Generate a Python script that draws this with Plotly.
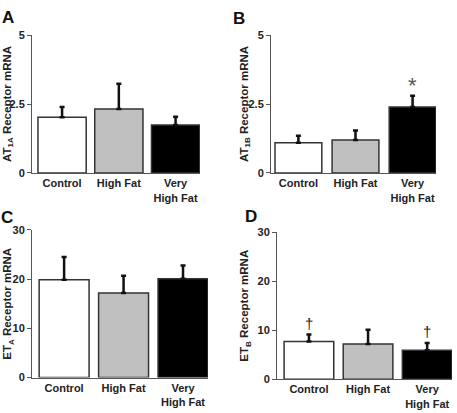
import plotly.graph_objects as go

categories = ["Control", "High Fat", "Very<br>High Fat"]
colors = ["#ffffff", "#c0c0c0", "#000000"]

a_mean = [2.02, 2.32, 1.74]
a_err = [0.37, 0.92, 0.30]
b_mean = [1.10, 1.20, 2.39]
b_err = [0.25, 0.34, 0.41]
c_mean = [19.9, 17.2, 20.1]
c_err = [4.6, 3.5, 2.7]
d_mean = [7.7, 7.2, 5.9]
d_err = [1.4, 2.9, 1.5]

b_marks = ["", "", "*"]
d_marks = ["†", "", "†"]

a_ticks = [0, 2.5, 5]
c_ticks = [0, 10, 20, 30]

FONT = "Liberation Sans, Arial, sans-serif"
W, H = 457, 413

panels = [
    # letter, title, mean, err, marks, ticks, ymax, xdom, ydom, xrange, barwidth
    ("A", "AT<sub>1A</sub> Receptor mRNA", a_mean, a_err, None, a_ticks, 5,
     (32 / W, 200 / W), (1 - 172 / H, 1 - 30 / H), (-0.53, 2.43), 0.85),
    ("B", "AT<sub>1B</sub> Receptor mRNA", b_mean, b_err, b_marks, a_ticks, 5,
     (271 / W, 436 / W), (1 - 172 / H, 1 - 30 / H), (-0.48, 2.41), 0.82),
    ("C", "ET<sub>A</sub> Receptor mRNA", c_mean, c_err, None, c_ticks, 30,
     (32 / W, 208 / W), (1 - 382.7 / H, 1 - 230.7 / H), (-0.54, 2.42), 0.84),
    ("D", "ET<sub>B</sub> Receptor mRNA", d_mean, d_err, d_marks, c_ticks, 30,
     (277 / W, 452 / W), (1 - 384.3 / H, 1 - 233 / H), (-0.54, 2.42), 0.84),
]

letter_pos = {"A": (8, 12), "B": (239, 13), "C": (7, 218), "D": (251, 217)}
title_x = {"A": 8, "B": 245, "C": 8, "D": 245}

fig = go.Figure()
layout = dict(
    width=W, height=H, margin=dict(l=0, r=0, t=0, b=0),
    paper_bgcolor="white", plot_bgcolor="white", showlegend=False,
    font=dict(family=FONT, color="#222"),
)
annotations = []

for i, (letter, title, mean, err, marks, ticks, ymax, xdom, ydom, xr, bw) in enumerate(panels):
    n = "" if i == 0 else str(i + 1)
    xa, ya = "x" + n, "y" + n
    fig.add_trace(go.Bar(
        x=list(range(len(categories))), y=mean, width=bw,
        marker=dict(color=colors, line=dict(color="#333", width=1.5)),
        error_y=dict(type="data", symmetric=False, array=err, arrayminus=[0] * len(err),
                     color="#111", thickness=2.5, width=2.5),
        xaxis=xa, yaxis=ya, hoverinfo="skip",
    ))
    layout["xaxis" + n] = dict(
        domain=list(xdom), range=list(xr), anchor=ya,
        tickvals=list(range(len(categories))), ticktext=["<b>%s</b>" % c for c in categories],
        showline=True, linecolor="#555", linewidth=1, ticks="", showgrid=False,
        zeroline=False, fixedrange=True,
        tickfont=dict(family=FONT, size=11, color="#222"),
    )
    layout["yaxis" + n] = dict(
        domain=list(ydom), range=[0, ymax], anchor=xa,
        tickvals=ticks, ticktext=["<b>%s</b>" % t for t in ticks],
        showline=True, linecolor="#555", linewidth=1, ticks="outside", ticklen=4,
        tickcolor="#555", showgrid=False, zeroline=False, fixedrange=True,
        tickfont=dict(family=FONT, size=11, color="#222"),
    )
    lx, ly = letter_pos[letter]
    annotations.append(dict(
        text="<b>%s</b>" % letter, x=lx / W, y=1 - ly / H, xref="paper", yref="paper",
        showarrow=False, xanchor="center", yanchor="middle",
        font=dict(family=FONT, size=17, color="#111"),
    ))
    annotations.append(dict(
        text="<b>%s</b>" % title, x=title_x[letter] / W, y=(ydom[0] + ydom[1]) / 2,
        xref="paper", yref="paper", showarrow=False, textangle=-90,
        xanchor="center", yanchor="middle",
        font=dict(family=FONT, size=11.5, color="#222"),
    ))
    if marks:
        for j, m in enumerate(marks):
            if not m:
                continue
            star = m == "*"
            annotations.append(dict(
                text=m, x=j, y=mean[j] + err[j], xref=xa, yref=ya, showarrow=False,
                xanchor="center", yanchor="bottom", yshift=-4 if star else 1,
                font=dict(family=FONT, size=22 if star else 15, color="#555" if star else "#222"),
            ))

layout["annotations"] = annotations
fig.update_layout(**layout)
fig.write_html("out.html")
